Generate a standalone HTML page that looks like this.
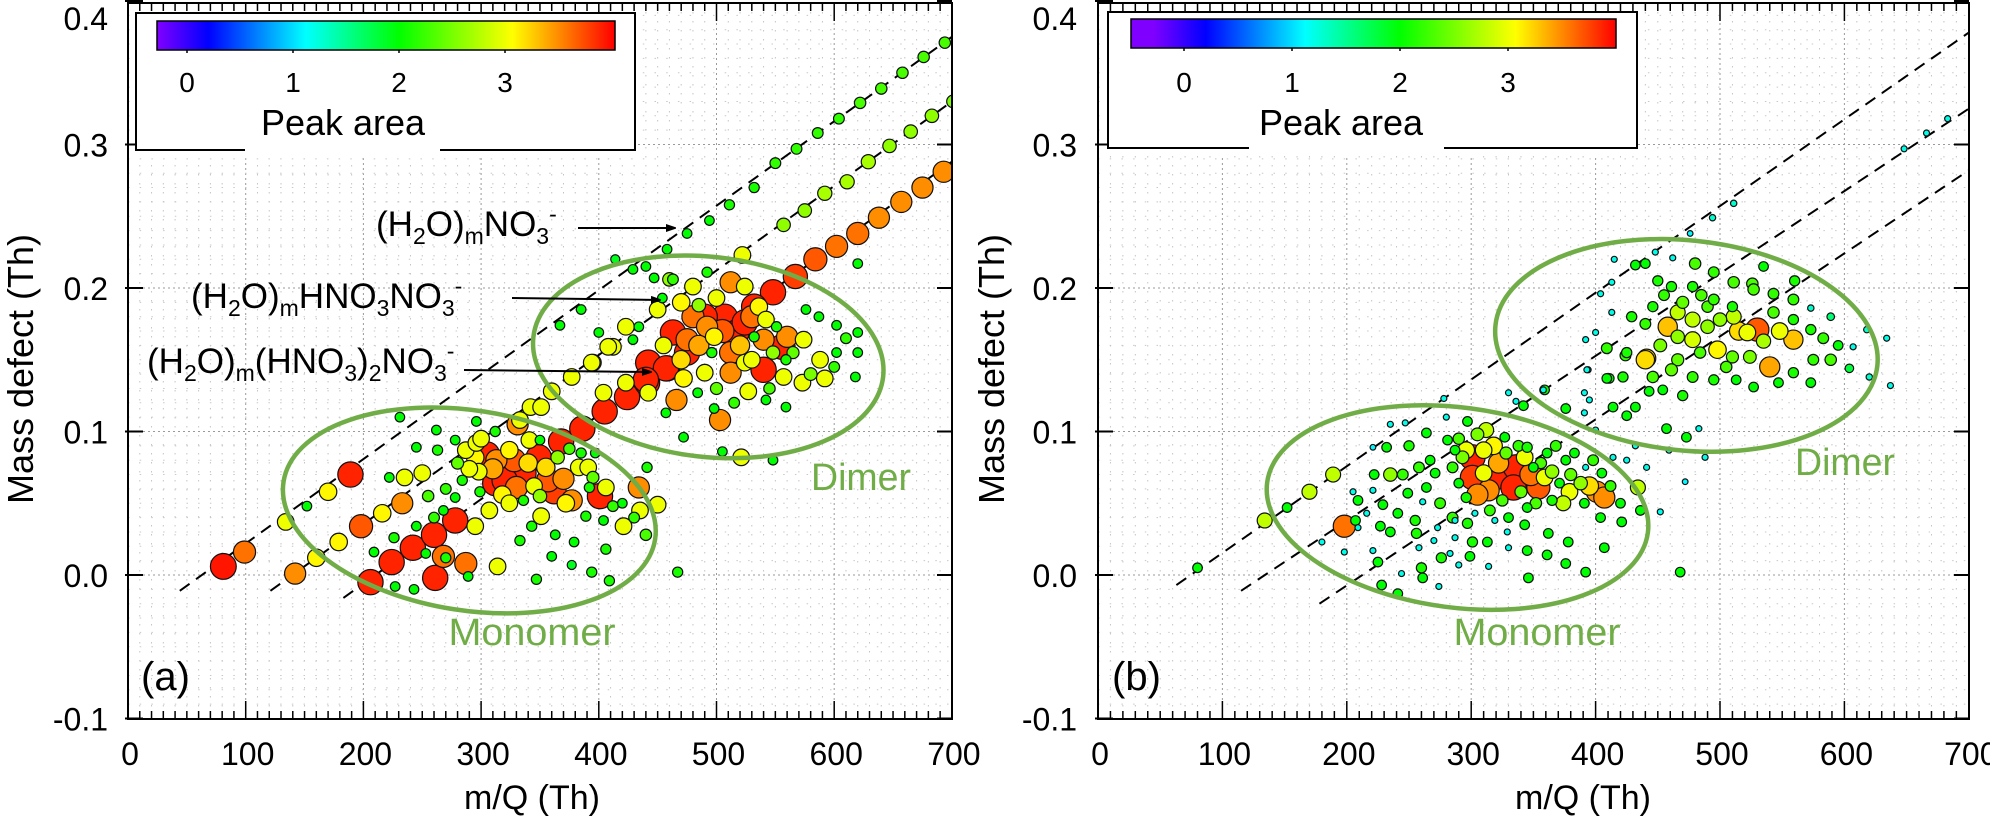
<!DOCTYPE html>
<html>
<head>
<meta charset="utf-8">
<style>
html,body{margin:0;padding:0;background:#fff;}
svg{display:block;font-family:"Liberation Sans",Arial,sans-serif;}
</style>
</head>
<body>
<svg id="chart" width="1990" height="818" viewBox="0 0 1990 818" xmlns="http://www.w3.org/2000/svg">
<defs>
<marker id="arrowhead" markerWidth="10" markerHeight="8" refX="9" refY="4" orient="auto" markerUnits="userSpaceOnUse">
<path d="M0,0 L12,4 L0,8 Z" fill="#000"/>
</marker>
<clipPath id="clipA"><rect x="128" y="3" width="824" height="716"/></clipPath>
<clipPath id="clipB"><rect x="1098" y="3" width="871" height="716"/></clipPath>
</defs>
<rect x="0" y="0" width="1990" height="818" fill="#fff"/>
</svg>
<script>
// ---------- Data (panel a) ----------
const aMz = [81,99,142,160,179,134,170,189,152,198,216,233,206,224,242,260,278,261,287,268,314,347,394,409,467,406,421,435,434,441,450,379,360,363,377,343,333,404,389,420,406,392,377,357,401,370,383,349,368,385,397,341,331,350,324,324,336,312,305,313,295,298,284,318,330,324,336,307,295,299,278,268,250,235,222,263,278,287,296,312,296,333,231,245,262,245,253,270,289,226,209,351,372,362,391,243,227,342,351,360,377,395,412,386,405,424,441,458,532,511,494,475,458,440,414,550,568,586,604,622,640,658,676,694,385,367,611,592,575,557,522,629,647,665,683,701,675,657,638,620,602,584,567,548,532,693,454,463,480,492,512,524,507,490,480,463,475,492,498,517,524,536,542,551,556,560,540,532,512,496,475,442,457,440,472,490,512,540,524,559,574,588,602,618,620,620,602,587,576,592,573,557,527,542,559,503,498,484,466,457,442,423,404,472,505,521,548,429,423,408,394,400,434,450,429,447,460,620];
const aDefect = [0.006,0.016,0.001,0.012,0.023,0.037,0.058,0.070,0.048,0.034,0.043,0.050,-0.005,0.009,0.019,0.028,0.038,-0.002,0.008,0.013,0.006,-0.003,0.002,-0.004,0.002,0.018,0.034,0.045,0.061,0.075,0.049,0.023,0.013,0.028,0.007,0.034,0.024,0.038,0.041,0.050,0.061,0.061,0.052,0.066,0.055,0.067,0.075,0.082,0.093,0.085,0.085,0.094,0.105,0.094,0.087,0.073,0.071,0.064,0.084,0.080,0.082,0.072,0.066,0.056,0.061,0.050,0.052,0.045,0.034,0.058,0.054,0.045,0.071,0.068,0.068,0.087,0.094,0.087,0.092,0.100,0.107,0.108,0.110,0.089,0.101,0.034,0.015,0.012,-0.001,0.026,0.016,0.041,0.050,0.058,0.075,-0.010,-0.008,0.117,0.117,0.128,0.138,0.148,0.159,0.102,0.114,0.124,0.134,0.144,0.270,0.258,0.247,0.238,0.227,0.215,0.220,0.287,0.297,0.308,0.318,0.329,0.339,0.350,0.361,0.371,0.185,0.174,0.274,0.266,0.254,0.244,0.223,0.288,0.299,0.309,0.320,0.330,0.270,0.260,0.249,0.238,0.229,0.220,0.208,0.197,0.187,0.281,0.193,0.206,0.201,0.211,0.204,0.201,0.180,0.180,0.180,0.169,0.164,0.173,0.166,0.169,0.176,0.187,0.178,0.173,0.159,0.166,0.164,0.166,0.155,0.155,0.155,0.148,0.144,0.136,0.137,0.141,0.141,0.143,0.148,0.150,0.164,0.150,0.155,0.138,0.155,0.169,0.174,0.180,0.185,0.137,0.134,0.138,0.128,0.122,0.117,0.108,0.116,0.127,0.122,0.113,0.127,0.134,0.127,0.096,0.086,0.082,0.080,0.164,0.173,0.159,0.148,0.169,0.173,0.185,0.213,0.207,0.206,0.217];
const aArea = [3.95,3.6,3.5,3.1,3.1,3.0,3.1,3.9,2.0,3.7,3.1,3.5,3.9,3.9,3.9,3.9,3.9,3.9,3.6,3.6,3.0,2.1,2.1,2.1,2.1,2.1,3.0,3.0,3.5,2.1,3.0,2.0,2.0,2.0,1.9,2.1,2.1,2.0,2.1,2.0,3.0,2.1,3.5,3.7,3.9,3.5,3.0,3.9,3.9,2.1,2.0,3.0,3.5,2.0,3.1,3.9,3.9,3.9,3.9,3.5,3.1,3.0,2.1,3.1,3.6,3.0,2.1,3.0,3.0,2.1,2.0,2.0,3.0,3.0,2.0,2.1,2.0,3.0,3.0,2.1,2.0,3.0,2.0,2.0,2.0,2.0,2.0,2.1,2.0,2.1,2.0,3.0,3.1,3.8,3.0,2.0,2.0,3.0,3.0,3.0,3.0,3.0,3.0,3.9,3.9,3.9,3.9,3.9,2.1,2.1,2.0,2.0,2.0,2.0,1.9,2.2,2.2,2.2,2.2,2.3,2.3,2.3,2.3,2.3,2.0,2.0,2.7,2.7,2.6,2.6,3.0,2.7,2.6,2.6,2.6,2.5,3.5,3.5,3.5,3.6,3.6,3.7,3.8,3.9,3.9,3.5,2.0,2.2,3.0,2.1,3.5,3.0,3.9,3.9,3.6,3.9,3.6,3.5,3.1,3.9,3.9,3.1,3.0,2.1,3.9,3.5,3.5,2.1,3.6,2.1,3.9,3.9,3.9,3.9,3.1,3.0,3.5,3.9,3.0,2.1,3.0,3.0,2.0,2.0,2.0,2.0,2.0,2.0,2.0,3.0,3.0,3.0,3.0,2.0,2.0,3.5,2.0,2.0,3.5,2.0,3.0,3.0,3.0,2.0,2.0,3.0,2.0,2.0,3.0,3.0,3.0,2.0,2.0,3.0,2.0,2.0,2.6,2.0];
const aMzExtra = [300,310,320,328,340,345,355,365,375,290,280,270,255,260,350,395,412,430,440,470,485,500,505,520,530,548,565,580,470,485,455,530,500,515,545,600,610];
const aDefectExtra = [0.095,0.074,0.066,0.080,0.078,0.062,0.075,0.082,0.088,0.074,0.078,0.060,0.055,0.040,0.055,0.068,0.048,0.040,0.028,0.190,0.188,0.193,0.170,0.160,0.150,0.155,0.155,0.140,0.150,0.160,0.160,0.180,0.130,0.120,0.130,0.145,0.165];
const aAreaExtra = [3.0,3.4,3.9,3.7,3.2,3.0,3.2,2.6,2.3,3.0,2.4,2.2,2.3,2.2,2.6,2.4,2.2,2.2,2.3,3.1,2.6,3.0,3.7,3.3,3.0,2.6,2.4,2.5,3.2,3.4,3.0,3.6,2.4,2.2,2.3,2.2,2.2];

// ---------- Data (panel b) ----------
const bMz = [80,134,170,189,152,198,180,198,209,207,205,209,221,232,235,247,222,235,221,216,229,241,227,235,221,225,228,241,244,249,255,261,256,258,261,274,276,270,273,264,271,267,264,281,280,297,278,287,293,296,301,301,312,310,310,319,314,305,296,290,327,336,334,345,343,350,354,359,361,371,374,376,383,388,392,401,407,405,420,434,436,452,468,441,432,472,392,407,376,361,378,362,345,346,330,314,343,329,313,301,299,290,283,287,297,287,303,319,330,345,365,379,391,404,421,330,342,336,359,394,395,376,391,400,411,414,425,432,425,441,414,425,459,488,443,454,457,473,483,683,666,648,511,494,476,448,415,462,404,413,413,400,392,393,391,358,432,440,480,495,511,526,543,559,573,589,634,618,607,637,620,604,589,575,573,559,559,559,540,543,530,522,511,510,524,498,490,490,478,466,458,466,478,484,466,440,424,409,446,461,478,495,513,527,547,573,409,422,429,446,461,478,495,510,527];
const bDefect = [0.005,0.038,0.058,0.070,0.047,0.034,0.023,0.016,0.033,0.038,0.058,0.052,0.089,0.089,0.105,0.106,0.070,0.070,0.059,0.043,0.049,0.043,0.034,0.030,0.017,0.009,-0.007,-0.013,0.001,0.057,0.038,0.051,0.029,0.019,-0.002,-0.008,0.012,0.024,0.033,0.061,0.071,0.080,0.099,0.094,0.110,0.107,0.123,0.087,0.082,0.087,0.082,0.068,0.101,0.087,0.071,0.068,0.059,0.056,0.054,0.064,0.096,0.075,0.061,0.089,0.082,0.075,0.061,0.068,0.085,0.064,0.050,0.080,0.085,0.064,0.075,0.058,0.054,0.071,0.050,0.061,0.045,0.044,0.002,0.075,0.090,0.065,0.002,0.019,0.008,0.014,0.023,0.029,0.017,-0.002,0.019,0.006,0.035,0.030,0.023,0.023,0.013,0.007,0.015,0.026,0.036,0.038,0.043,0.038,0.040,0.047,0.052,0.058,0.050,0.040,0.037,0.127,0.118,0.121,0.129,0.143,0.122,0.116,0.113,0.101,0.137,0.117,0.111,0.117,0.155,0.151,0.082,0.080,0.087,0.082,0.128,0.129,0.102,0.096,0.102,0.318,0.308,0.297,0.259,0.249,0.238,0.225,0.220,0.221,0.196,0.204,0.183,0.169,0.164,0.143,0.127,0.129,0.216,0.217,0.217,0.211,0.204,0.203,0.196,0.192,0.186,0.180,0.165,0.171,0.159,0.132,0.138,0.144,0.150,0.150,0.171,0.178,0.164,0.141,0.145,0.183,0.171,0.169,0.180,0.152,0.152,0.157,0.173,0.187,0.178,0.183,0.173,0.166,0.164,0.155,0.150,0.150,0.153,0.158,0.138,0.143,0.138,0.136,0.136,0.131,0.134,0.134,0.137,0.138,0.180,0.187,0.201,0.201,0.192,0.187,0.199];
const bArea = [2.0,2.8,2.8,2.8,2.0,3.6,1.2,1.2,1.2,2.0,1.2,2.0,1.1,2.0,1.2,1.2,2.0,2.6,1.2,1.2,2.0,2.0,2.0,2.0,1.2,2.0,2.0,2.0,1.2,2.0,2.1,1.2,2.1,1.2,2.0,1.2,2.1,1.2,1.2,2.0,2.0,2.0,2.0,2.0,1.2,2.0,1.2,2.0,2.5,3.0,3.9,3.8,2.8,3.0,3.0,3.9,3.5,3.5,2.1,2.0,2.0,3.9,3.9,2.1,3.0,2.0,3.7,3.0,2.0,2.0,2.8,2.0,2.0,2.6,1.2,3.5,3.5,2.0,2.0,2.8,2.0,1.2,2.0,1.2,1.2,1.1,2.0,2.0,2.0,2.0,2.0,2.0,2.0,2.0,1.2,1.2,2.0,1.2,2.0,2.1,2.0,1.2,1.2,1.2,2.1,1.2,1.2,1.2,2.0,2.0,2.1,3.0,2.0,2.0,2.0,1.2,2.0,1.2,2.0,1.2,1.2,2.0,1.2,1.2,2.0,2.0,2.0,2.0,2.1,3.2,1.2,1.2,1.2,1.2,2.0,2.0,2.0,2.0,1.2,1.2,1.2,1.2,1.3,1.3,1.1,1.2,1.2,1.2,1.2,1.2,1.2,1.2,1.2,1.2,1.2,1.2,2.0,2.0,2.3,2.2,2.3,2.3,2.2,2.2,1.3,1.6,1.2,1.3,1.2,1.2,1.3,1.8,2.3,2.2,2.1,2.1,3.3,2.1,3.4,2.3,3.7,3.0,2.8,2.4,2.5,3.1,2.6,2.3,2.8,2.8,3.3,2.6,2.9,2.3,2.4,3.2,2.2,2.2,2.3,2.4,2.2,2.1,2.0,2.0,2.0,2.0,2.0,2.1,2.1,2.1,2.1,2.1,2.2,2.1,2.3];
const bMzExtra = [285,290,305,318,322,328,338,348,356,365,368,380,395,398,412,315,325,340,352,258,250,275,245,285,260,455,470,485,500,515,535,548,505,452,440,470,560,583,535,450,595];
const bDefectExtra = [0.075,0.095,0.098,0.090,0.078,0.085,0.090,0.070,0.078,0.072,0.090,0.070,0.062,0.080,0.062,0.045,0.052,0.058,0.050,0.075,0.090,0.050,0.070,0.040,0.005,0.195,0.190,0.195,0.178,0.170,0.163,0.170,0.145,0.160,0.175,0.125,0.205,0.165,0.215,0.205,0.160];
const bAreaExtra = [2.2,2.3,2.5,3.1,3.4,2.4,2.2,3.6,2.3,2.6,2.2,2.4,3.2,2.2,2.2,2.2,2.3,2.4,2.3,2.2,2.1,2.2,2.2,2.2,2.1,2.2,2.4,2.3,2.6,3.2,2.7,3.0,2.3,2.5,2.2,2.1,2.1,2.2,2.0,2.1,2.0];

// ---------- Reference lines (homologous series) ----------
const aLineM0 = [44,121,183];
const aLineD0 = [-0.011,-0.011,-0.016];
const aLineM1 = [700,700,700];
const aLineD1 = [0.375,0.330,0.288];
const bLineM0 = [63,115,178];
const bLineD0 = [-0.007,-0.011,-0.020];
const bLineM1 = [700,700,700];
const bLineD1 = [0.378,0.325,0.282];

// ---------- Axis ticks ----------
const xTickVals = [0,100,200,300,400,500,600,700];
const xTickLabels = ["0","100","200","300","400","500","600","700"];
const yTickVals = [-0.1,0.0,0.1,0.2,0.3,0.4];
const yTickLabels = ["-0.1","0.0","0.1","0.2","0.3","0.4"];
const cbTickVals = [0,1,2,3];
const cbTickLabels = ["0","1","2","3"];

// Colormap stops (peak area value -> color)
const cmapVals = [-0.28,0.2,1.12,2.0,3.07,4.03];
const cmapCols = [[127,0,255],[0,0,255],[0,255,255],[0,255,0],[255,255,0],[255,0,0]];

const NS = "http://www.w3.org/2000/svg";
const svg = document.getElementById("chart");
function mk(tag, parent){ const e=document.createElementNS(NS,tag); (parent||svg).appendChild(e); return e; }
function setA(e, o){ for(const k in o) e.setAttribute(k,o[k]); return e; }

const Y0 = 575, YS = 1435, TOP = 3, BOT = 719;
function yS(v){ return Y0 - v*YS; }
function colorOf(v){
  if (v<=cmapVals[0]) return "rgb("+cmapCols[0].join(",")+")";
  for(let i=1;i<cmapVals.length;i++){
    if (v<=cmapVals[i]){
      const t=(v-cmapVals[i-1])/(cmapVals[i]-cmapVals[i-1]);
      const c=cmapCols[i-1].map((c0,k)=>Math.round(c0+(cmapCols[i][k]-c0)*t));
      return "rgb("+c.join(",")+")";
    }
  }
  return "rgb("+cmapCols[cmapCols.length-1].join(",")+")";
}
function radiusOf(a){ return 2 + 0.7*a*a; }

function panel(cfg){
  const L=cfg.left, R=cfg.right;
  const xS = m => L + m*cfg.pxPerTh;
  const g = mk("g");
  
  

  const grid = mk("g", g);
  
  
  for(let m=10;m<700;m+=10){
    const ln = setA(mk("line",grid),{x1:xS(m),x2:xS(m),y1:TOP,y2:BOT,stroke:(m%100===0)?"#9a9a9a":"#c4c4c4","stroke-width":1,"stroke-dasharray":(m%100===0)?"2 3":"1.5 7.5"});
    
    
  }
  for(let k=-9;k<=40;k++){
    const v=k/100, y=yS(v);
    if (y<TOP||y>BOT) continue;
    const major = (k%10===0);
    const ln = setA(mk("line",grid),{x1:L,x2:R,y1:y,y2:y,stroke:major?"#9a9a9a":"#c8c8c8","stroke-width":1,"stroke-dasharray":major?"2 3":"1.5 10.2"});
    
    
  }

  const content = mk("g", g);
  content.setAttribute("clip-path","url(#"+cfg.clip+")");
  
  

  for(let i=0;i<cfg.lm0.length;i++){
    const ln = setA(mk("line",content),{x1:xS(cfg.lm0[i]),y1:yS(cfg.ld0[i]),x2:xS(cfg.lm1[i]),y2:yS(cfg.ld1[i]),stroke:"#000","stroke-width":2,"stroke-dasharray":"12 8"});
    
    
  }

  const idx = cfg.mz.map((_,i)=>i).sort((p,q)=>cfg.area[q]-cfg.area[p]);
  const pts = mk("g", content);
  
  
  for(const i of idx){
    const c = setA(mk("circle",pts),{cx:xS(cfg.mz[i]),cy:yS(cfg.md[i]),r:radiusOf(cfg.area[i]).toFixed(2),fill:colorOf(cfg.area[i]),stroke:"#111","stroke-width":1.2});
    
    
  }

  for(const e of cfg.ellipses){
    const el = setA(mk("ellipse",content),{cx:xS(e.m),cy:yS(e.d),rx:e.rx,ry:e.ry,fill:"none",stroke:"#70ad47","stroke-width":4.5,transform:"rotate("+e.rot+" "+xS(e.m)+" "+yS(e.d)+")"});
    
    
  }

  const fr = setA(mk("rect",g),{x:L,y:TOP,width:R-L,height:BOT-TOP,fill:"none",stroke:"#000","stroke-width":2});
  
  

  for(let m=0;m<=700;m+=10){
    const len = (m%100===0)?18:8;
    const t1 = setA(mk("line",g),{x1:xS(m),x2:xS(m),y1:BOT,y2:BOT-len,stroke:"#000","stroke-width":1.5});
    
    
    const t2 = setA(mk("line",g),{x1:xS(m),x2:xS(m),y1:TOP,y2:TOP+len,stroke:"#000","stroke-width":1.5});
    
    
  }
  xTickVals.forEach((v,i)=>{
    const t = setA(mk("text",g),{x:xS(v)+2,y:765,"text-anchor":"middle","font-size":32,fill:"#000"});
    t.textContent = xTickLabels[i];
    
    
  });
  yTickVals.forEach((v,i)=>{
    const y=yS(v);
    const t1 = setA(mk("line",g),{x1:L-3,x2:L+15,y1:y,y2:y,stroke:"#000","stroke-width":2});
    
    
    const t2 = setA(mk("line",g),{x1:R-15,x2:R,y1:y,y2:y,stroke:"#000","stroke-width":2});
    
    
    const lbl = setA(mk("text",g),{x:cfg.yLabelRight,y:Math.max(y+12,30),"text-anchor":"end","font-size":32,fill:"#000"});
    lbl.textContent = yTickLabels[i];
    
    
  });

  const xt = setA(mk("text",g),{x:cfg.xTitleX,y:809,"text-anchor":"middle","font-size":34,fill:"#000"});
  xt.textContent = "m/Q (Th)";
  
  
  const yt = setA(mk("text",g),{x:0,y:0,"text-anchor":"middle","font-size":36,fill:"#000",transform:"translate("+(cfg.yTitleX+13)+",369) rotate(-90)"});
  yt.textContent = "Mass defect (Th)";
  
  

  const lg = mk("g", g);
  
  
  const lb = cfg.legend;
  const bg = setA(mk("rect",lg),{x:lb.x0,y:lb.y0,width:lb.x1-lb.x0,height:lb.y1-lb.y0+8,fill:"#fff"});
  
  
  const bd = setA(mk("path",lg),{d:"M"+lb.gap0+","+lb.y1+" L"+lb.x0+","+lb.y1+" L"+lb.x0+","+lb.y0+" L"+lb.x1+","+lb.y0+" L"+lb.x1+","+lb.y1+" L"+lb.gap1+","+lb.y1,fill:"none",stroke:"#000","stroke-width":2});
  
  
  const cbPx = v => lb.zeroPx + v*lb.pxPerUnit;
  const gradId = cfg.name + "-grad";
  const defs = svg.querySelector("defs");
  const grad = setA(mk("linearGradient",defs),{id:gradId,x1:"0",x2:"1",y1:"0",y2:"0"});
  cmapVals.forEach((v,i)=>{
    const off = Math.min(1,Math.max(0,(cbPx(v)-lb.barX0)/(lb.barX1-lb.barX0)));
    setA(mk("stop",grad),{offset:off.toFixed(4),"stop-color":"rgb("+cmapCols[i].join(",")+")"});
  });
  const bar = setA(mk("rect",lg),{x:lb.barX0,y:lb.barY0,width:lb.barX1-lb.barX0,height:lb.barY1-lb.barY0,fill:"url(#"+gradId+")",stroke:"#000","stroke-width":1.5});
  
  
  cbTickVals.forEach((v,i)=>{
    const tk = setA(mk("line",lg),{x1:cbPx(v),x2:cbPx(v),y1:lb.barY1,y2:lb.barY1+3,stroke:"#000","stroke-width":1.5});
    
    
    const tl = setA(mk("text",lg),{x:cbPx(v),y:92,"text-anchor":"middle","font-size":28,fill:"#000"});
    tl.textContent = cbTickLabels[i];
    
    
  });
  const pa = setA(mk("text",lg),{x:lb.titleX,y:135,"text-anchor":"middle","font-size":36,fill:"#000"});
  pa.textContent = "Peak area";
  
  

  const mo = setA(mk("text",g),{x:cfg.monoX,y:645,"text-anchor":"middle","font-size":38,fill:"#70ad47",textLength:167,lengthAdjust:"spacingAndGlyphs"});
  mo.textContent = "Monomer";
  
  
  const di = setA(mk("text",g),{x:cfg.dimerX,y:cfg.dimerY,"text-anchor":"middle","font-size":38,fill:"#70ad47",textLength:100,lengthAdjust:"spacingAndGlyphs"});
  di.textContent = "Dimer";
  
  
  const pl = setA(mk("text",g),{x:cfg.panelLabelX,y:690,"font-size":40,fill:"#000"});
  pl.textContent = cfg.panelLabel;
  
  
  return {g, xS};
}

const pa = panel({
  name:"panel-a", left:128, right:952, pxPerTh:1.177, clip:"clipA",
  mz:aMz.concat(aMzExtra), md:aDefect.concat(aDefectExtra), area:aArea.concat(aAreaExtra),
  lm0:aLineM0, ld0:aLineD0, lm1:aLineM1, ld1:aLineD1,
  ellipses:[{name:"monomer-ellipse",m:290,d:0.045,rx:188,ry:100,rot:8.8},{name:"dimer-ellipse",m:493,d:0.152,rx:176,ry:100,rot:6.5}],
  yLabelRight:108, xTitleX:532, yTitleX:20,
  legend:{x0:136,x1:635,y0:13,y1:150,gap0:245,gap1:440,barX0:157,barX1:615,barY0:21,barY1:50,zeroPx:187,pxPerUnit:106,titleX:343},
  monoX:532, dimerX:861, dimerY:490, panelLabelX:141, panelLabel:"(a)"
});
const pb = panel({
  name:"panel-b", left:1098, right:1969, pxPerTh:1.244, clip:"clipB",
  mz:bMz.concat(bMzExtra), md:bDefect.concat(bDefectExtra), area:bArea.concat(bAreaExtra),
  lm0:bLineM0, ld0:bLineD0, lm1:bLineM1, ld1:bLineD1,
  ellipses:[{name:"monomer-ellipse",m:289,d:0.047,rx:192,ry:100,rot:7.5},{name:"dimer-ellipse",m:473,d:0.160,rx:192,ry:105,rot:6}],
  yLabelRight:1077, xTitleX:1583, yTitleX:991,
  legend:{x0:1108,x1:1637,y0:12,y1:148,gap0:1249,gap1:1444,barX0:1131,barX1:1616,barY0:19,barY1:48,zeroPx:1184,pxPerUnit:108,titleX:1341},
  monoX:1537, dimerX:1845, dimerY:475, panelLabelX:1112, panelLabel:"(b)"
});

// ---------- Annotations (panel a) ----------
function formula(parent, x, y, parts){
  const t = setA(mk("text",parent),{x:x,y:y,"font-size":35,fill:"#000"});
  parts.forEach(p=>{
    const s = mk("tspan", t);
    if (p[1]==="sub"){ setA(s,{"font-size":23,dy:8}); }
    else if (p[1]==="sup"){ setA(s,{"font-size":23,dy:-14}); }
    s.textContent = p[0];
    if (p[1]==="sub") { const r=mk("tspan",t); setA(r,{dy:-8,"font-size":35}); r.textContent="\u200b"; }
    if (p[1]==="sup") { const r=mk("tspan",t); setA(r,{dy:14,"font-size":35}); r.textContent="\u200b"; }
  });
  return t;
}
const ann = mk("g", pa.g);


const f1 = formula(ann, 376, 236, [["(H"],["2","sub"],["O)"],["m","sub"],["NO"],["3","sub"],["-","sup"]]);


const f2 = formula(ann, 191, 308, [["(H"],["2","sub"],["O)"],["m","sub"],["HNO"],["3","sub"],["NO"],["3","sub"],["-","sup"]]);


const f3 = formula(ann, 147, 373, [["(H"],["2","sub"],["O)"],["m","sub"],["(HNO"],["3","sub"],[")"],["2","sub"],["NO"],["3","sub"],["-","sup"]]);


const arrows = [[578,228,675,228],[512,298,660,300],[464,370,651,372]];
arrows.forEach(a=>{
  const ln = setA(mk("line",ann),{x1:a[0],y1:a[1],x2:a[2],y2:a[3],stroke:"#000","stroke-width":2,"marker-end":"url(#arrowhead)"});
  
  
});
</script>
</body>
</html>
